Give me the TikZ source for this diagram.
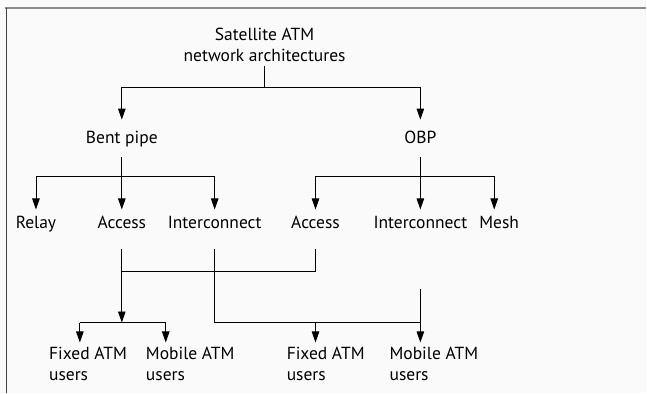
\documentclass[tikz,border=0pt]{standalone}
\usepackage{fontspec}
\setmainfont{PT Sans}
\usetikzlibrary{arrows.meta, calc, positioning}
\definecolor{bgpaper}{HTML}{FAFAFA}
\definecolor{rulegray}{HTML}{8C8C8C}

\begin{document}
\begin{tikzpicture}[x=1pt, y=-1pt,
  every node/.style={font=\fontsize{17.5}{21.5}\selectfont, inner xsep=0pt},
  lvlone/.style={anchor=base, text height=13pt, text depth=2pt, inner ysep=11pt},
  lvltwo/.style={anchor=base, text height=13pt, text depth=14pt, inner ysep=6pt},
  users/.style={anchor=north west, align=left, inner ysep=4pt},
  link/.style={line width=0.8pt},
  arr/.style={link, -{Triangle[length=11pt, width=7.5pt]}}]
% Paper and frame
\fill[bgpaper] (0,0) rectangle (647,394);
\draw[rulegray, line width=2pt] (5,8.5) -- (647,8.5);
\draw[black!75, line width=0.8pt] (6.5,8) -- (6.5,394);

% Root and first split
\node[align=center, anchor=south, inner ysep=4pt] (root) at (265,66) {Satellite ATM\\network architectures};
\node[lvlone] (bent) at (122,144) {Bent pipe};
\node[lvlone] (obp) at (421,144) {OBP};
\coordinate (rj) at (265,88);
\draw[link] (root) -- (rj);
\draw[arr] (rj) -| (bent);
\draw[arr] (rj) -| (obp);

% Second level
\node[lvltwo] (relay) at (36,229) {Relay};
\node[lvltwo] (acca) at (122,229) {Access};
\node[lvltwo] (inta) at (215,229) {Interconnect};
\node[lvltwo] (accb) at (316,229) {Access};
\node[lvltwo] (intb) at (421,229) {Interconnect};
\node[lvltwo] (mesh) at (500,229) {Mesh};
\coordinate (bj) at (122,177);
\coordinate (oj) at (421,177);
\draw[link] (bent) -- (bj);
\draw[arr] (bj) -| (relay);
\draw[arr] (bj) -- (acca);
\draw[arr] (bj) -| (inta);
\draw[link] (obp) -- (oj);
\draw[arr] (oj) -| (accb);
\draw[arr] (oj) -- (intb);
\draw[arr] (oj) -| ([xshift=-5pt]mesh.north);

% Users
\node[users] (fixa) at (49,343) {Fixed ATM\\users};
\node[users] (moba) at (146,343) {Mobile ATM\\users};
\node[users] (fixb) at (287,343) {Fixed ATM\\users};
\node[users] (mobb) at (390,343) {Mobile ATM\\users};
\coordinate (aj) at (122,272);
\coordinate (uj) at (122,323);
\coordinate (ib) at (421,289);
\coordinate (dfa) at (80,323);
\coordinate (dma) at (166,323);
\coordinate (dfb) at (316,323);
\coordinate (dmb) at (421,323);
\draw[link] (accb) |- (aj);
\draw[arr] (acca) -- (uj);
\draw[link] (dfa) -- (dma);
\draw[arr] (dfa) -- (dfa |- fixa.north);
\draw[arr] (dma) -- (dma |- moba.north);
\draw[link] (inta) |- (dmb);
\draw[link] (ib) -- (dmb);
\draw[arr] (dfb) -- (dfb |- fixb.north);
\draw[arr] (dmb) -- (dmb |- mobb.north);
\end{tikzpicture}
\end{document}
